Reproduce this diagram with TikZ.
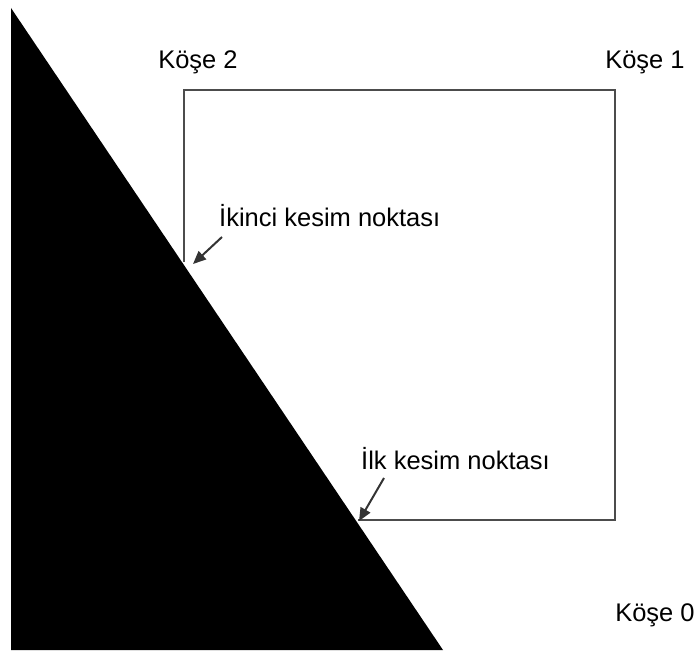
\documentclass[tikz,border=0pt]{standalone}
\usepackage{fontspec}
\setmainfont{Liberation Sans}
\usetikzlibrary{arrows.meta}
\begin{document}
\begin{tikzpicture}[x=1pt,y=-1pt,
  lbl/.style={font=\fontsize{25.5}{30}\selectfont, inner sep=0pt, anchor=center},
  edge/.style={draw=black!70, line width=2pt, line join=miter},
  pointer/.style={draw=black!80, line width=2pt, -{Triangle[length=13pt,width=11pt]}}]
  \useasboundingbox (0,0) rectangle (699,655);
  % clipping half-plane
  \fill[black] (11,8) -- (443,650) -- (11,650) -- cycle;
  % square window
  \coordinate (c0) at (615,520);
  \coordinate (c1) at (615,90);
  \coordinate (c2) at (184,90);
  \coordinate (cut1) at (358,520);
  \coordinate (cut2) at (184,262);
  \draw[edge] (cut2) -- (c2) -- (c1) -- (c0) -- (cut1);
  % corner labels
  \node[lbl] (k2) at (198,62) {Köşe 2};
  \node[lbl] (k1) at (645,62) {Köşe 1};
  \node[lbl] (k0) at (655,615) {Köşe 0};
  % intersection labels and pointers
  \node[lbl, anchor=west] (l2) at (219,216) {İkinci kesim noktası};
  \node[lbl, anchor=west] (l1) at (361,459) {İlk kesim noktası};
  \coordinate (p2) at (222,237);
  \coordinate (p1) at (384,478);
  \coordinate (t2) at (193,264);
  \coordinate (t1) at (359,521);
  \draw[pointer] (p2) -- (t2);
  \draw[pointer] (p1) -- (t1);
\end{tikzpicture}
\end{document}
